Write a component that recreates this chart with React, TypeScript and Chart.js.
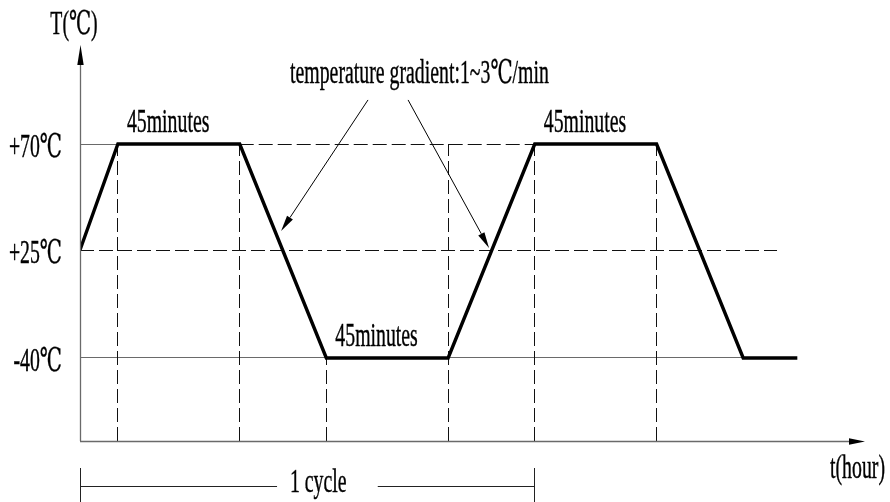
import React, { useEffect, useRef } from 'react';
import { Chart, LineController, LineElement, PointElement, LinearScale } from 'chart.js';

// ---- data ----
const timeMinutes = [0, 14, 59, 91, 136, 168, 213, 245, 265];
const temperatureC = [25, 70, 70, -40, -40, 70, 70, -40, -40];
const levelValues = [70, 25, -40];
const levelLabels = ['+70℃', '+25℃', '-40℃'];
const dwellMinutes = 45;
const dwellLabel = '45minutes';
const gradientLabel = 'temperature gradient:1~3℃/min';
const yAxisTitle = 'T(℃)';
const xAxisTitle = 't(hour)';
const cycleLabel = '1 cycle';
const cycleMinutes = [0, 168];

// ---- schematic (piecewise) temperature scale ----
const stopValues = [-85, -40, 25, 70, 110];
const stopDecimals = [0, 0.2096, 0.4823, 0.75, 1];

class SchematicScale extends LinearScale {
  static id = 'schematic';
  static defaults = LinearScale.defaults;
  getPixelForValue(value: number) {
    const n = stopValues.length;
    let dec = 0;
    if (value <= stopValues[0]) dec = stopDecimals[0];
    else if (value >= stopValues[n - 1]) dec = stopDecimals[n - 1];
    else {
      for (let i = 1; i < n; i++) {
        if (value <= stopValues[i]) {
          const f = (value - stopValues[i - 1]) / (stopValues[i] - stopValues[i - 1]);
          dec = stopDecimals[i - 1] + f * (stopDecimals[i] - stopDecimals[i - 1]);
          break;
        }
      }
    }
    return this.getPixelForDecimal(dec);
  }
  getValueForPixel(pixel: number) {
    const dec = this.getDecimalForPixel(pixel);
    const n = stopValues.length;
    for (let i = 1; i < n; i++) {
      if (dec <= stopDecimals[i]) {
        const f = (dec - stopDecimals[i - 1]) / (stopDecimals[i] - stopDecimals[i - 1]);
        return stopValues[i - 1] + f * (stopValues[i] - stopValues[i - 1]);
      }
    }
    return stopValues[n - 1];
  }
}

Chart.register(LineController, LineElement, PointElement, LinearScale, SchematicScale);

const FONT = "'Liberation Serif', 'DejaVu Serif', serif";
const SX = 0.6;
const GRAY = '#6a6a6a';
const DARK = '#111';
const DASH = [14, 5];

const crisp = (v: number) => Math.round(v - 0.5) + 0.5;

function drawText(ctx: CanvasRenderingContext2D, text: string, x: number, y: number, align: CanvasTextAlign, size = 33) {
  ctx.save();
  ctx.font = `${size}px ${FONT}`;
  ctx.fillStyle = '#000';
  ctx.strokeStyle = '#000';
  ctx.lineWidth = 0.4;
  ctx.textBaseline = 'alphabetic';
  ctx.textAlign = align;
  ctx.translate(x, y);
  ctx.scale(SX, 1);
  ctx.fillText(text, 0, 0);
  ctx.strokeText(text, 0, 0);
  ctx.restore();
}

function line(ctx: CanvasRenderingContext2D, x0: number, y0: number, x1: number, y1: number, color: string, w: number, dash: number[]) {
  ctx.save();
  ctx.strokeStyle = color;
  ctx.lineWidth = w;
  ctx.setLineDash(dash);
  ctx.beginPath();
  ctx.moveTo(x0, y0);
  ctx.lineTo(x1, y1);
  ctx.stroke();
  ctx.restore();
}

// horizontal / vertical thin guide, aligned to the pixel grid
function guide(ctx: CanvasRenderingContext2D, x0: number, y0: number, x1: number, y1: number, color: string, dash: number[]) {
  if (y0 === y1) line(ctx, x0, crisp(y0), x1, crisp(y1), color, 1, dash);
  else line(ctx, crisp(x0), y0, crisp(x1), y1, color, 1, dash);
}

function arrow(ctx: CanvasRenderingContext2D, x0: number, y0: number, x1: number, y1: number, color: string, w: number, len: number, half: number) {
  const ang = Math.atan2(y1 - y0, x1 - x0);
  const bx = x1 - Math.cos(ang) * len;
  const by = y1 - Math.sin(ang) * len;
  line(ctx, x0, y0, bx, by, color, w, []);
  ctx.save();
  ctx.fillStyle = '#000';
  ctx.beginPath();
  ctx.moveTo(x1, y1);
  ctx.lineTo(bx + Math.sin(ang) * half, by - Math.cos(ang) * half);
  ctx.lineTo(bx - Math.sin(ang) * half, by + Math.cos(ang) * half);
  ctx.closePath();
  ctx.fill();
  ctx.restore();
}

const schematicPlugin = {
  id: 'schematicDecor',
  beforeDatasetsDraw(chart: any) {
    const { ctx, scales } = chart;
    const X = (t: number) => scales.x.getPixelForValue(t);
    const Y = (v: number) => scales.y.getPixelForValue(v);
    const hi = levelValues[0];
    const mid = levelValues[1];
    const lo = levelValues[2];
    const t = timeMinutes;
    // +70 level
    guide(ctx, X(0), Y(hi), X(t[1]), Y(hi), GRAY, []);
    guide(ctx, X(t[2]), Y(hi), X(t[5]), Y(hi), DARK, DASH);
    // +25 level
    guide(ctx, X(0), Y(mid), X(257.5), Y(mid), DARK, DASH);
    // -40 level
    guide(ctx, X(0), Y(lo), X(t[7]), Y(lo), GRAY, []);
    // vertical guides
    const verticals: [number, number][] = [[t[1], hi], [t[2], hi], [t[3], lo], [t[4], hi], [t[5], hi], [t[6], hi]];
    const bottom = chart.chartArea.bottom;
    verticals.forEach(([tm, v]) => guide(ctx, X(tm), bottom, X(tm), Y(v), DARK, DASH));
  },
  afterDraw(chart: any) {
    const { ctx, scales, chartArea: a } = chart;
    const X = (t: number) => scales.x.getPixelForValue(t);
    const Y = (v: number) => scales.y.getPixelForValue(v);
    // axes
    arrow(ctx, crisp(a.left), a.bottom, crisp(a.left), a.top, GRAY, 1.3, 20, 3.2);
    arrow(ctx, a.left, crisp(a.bottom), a.right, crisp(a.bottom), GRAY, 1.3, 16, 3.2);
    drawText(ctx, yAxisTitle, a.left - 6, a.top - 11, 'center');
    drawText(ctx, xAxisTitle, a.right + 20, a.bottom + 37, 'right');
    // level labels
    levelValues.forEach((v, i) => drawText(ctx, levelLabels[i], a.left - 18, Y(v) + 13, 'right'));
    // dwell labels
    for (let i = 0; i < timeMinutes.length - 1; i++) {
      if (temperatureC[i] === temperatureC[i + 1] && timeMinutes[i + 1] - timeMinutes[i] === dwellMinutes) {
        drawText(ctx, dwellLabel, X(timeMinutes[i]) + 9, Y(temperatureC[i]) - 12, 'left');
      }
    }
    // gradient annotation
    drawText(ctx, gradientLabel, X(125.4), Y(94.6), 'center');
    arrow(ctx, X(106.4), Y(87.8), X(74.3), Y(33.1), '#000', 1, 16, 3.5);
    arrow(ctx, X(121.2), Y(87.8), X(151.1), Y(25.9), '#000', 1, 16, 3.5);
    // cycle bracket
    const cx0 = X(cycleMinutes[0]);
    const cx1 = X(cycleMinutes[1]);
    const by = a.bottom + 45;
    guide(ctx, cx0, a.bottom + 27, cx0, a.bottom + 62, '#222', []);
    guide(ctx, cx1, a.bottom + 27, cx1, a.bottom + 62, '#222', []);
    guide(ctx, cx0, by, X(72.8), by, '#222', []);
    guide(ctx, X(110), by, cx1, by, '#222', []);
    drawText(ctx, cycleLabel, X(88), a.bottom + 51, 'center');
  },
};

export default function App() {
  const ref = useRef<HTMLCanvasElement | null>(null);
  useEffect(() => {
    if (!ref.current) return;
    const chart = new Chart(ref.current, {
      type: 'line',
      data: {
        datasets: [
          {
            data: timeMinutes.map((t, i) => ({ x: t, y: temperatureC[i] })),
            borderColor: '#000',
            borderWidth: 3.4,
            borderJoinStyle: 'miter',
            pointRadius: 0,
            tension: 0,
            fill: false,
          },
        ],
      },
      options: {
        animation: false,
        responsive: true,
        maintainAspectRatio: false,
        events: [],
        layout: { padding: { left: 80, right: 25, top: 45, bottom: 61 } },
        scales: {
          x: { type: 'linear', min: 0, max: 290, display: false },
          y: { type: 'schematic' as any, min: -85, max: 110, display: false },
        },
        plugins: { legend: { display: false }, tooltip: { enabled: false } },
      },
      plugins: [schematicPlugin],
    } as any);
    return () => chart.destroy();
  }, []);
  return (
    <div style={{ position: 'absolute', left: 0, top: 0, width: 890, height: 502, background: '#fff' }}>
      <canvas ref={ref} />
    </div>
  );
}
